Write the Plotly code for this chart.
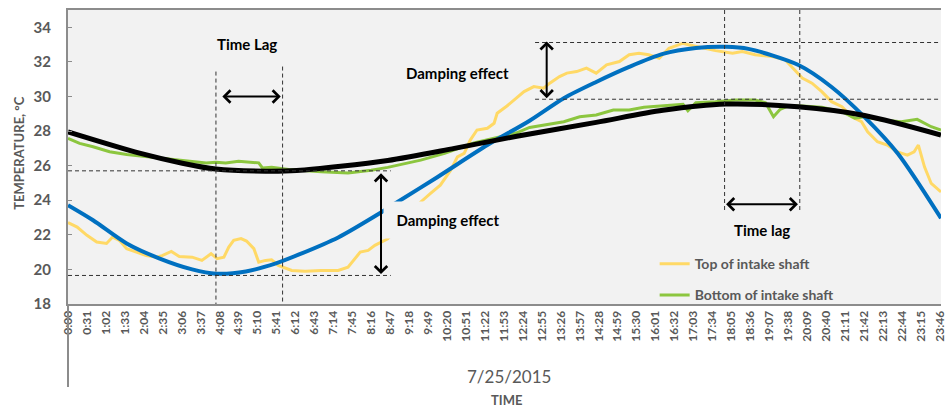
import plotly.graph_objects as go

# x axis categories, one label every 31 minutes
TICK_LABELS = [
    "0:00", "0:31", "1:02", "1:33", "2:04", "2:35", "3:06", "3:37", "4:08", "4:39",
    "5:10", "5:41", "6:12", "6:43", "7:14", "7:45", "8:16", "8:47", "9:18", "9:49",
    "10:20", "10:51", "11:22", "11:53", "12:24", "12:55", "13:26", "13:57", "14:28",
    "14:59", "15:30", "16:01", "16:32", "17:03", "17:34", "18:05", "18:36", "19:07",
    "19:38", "20:09", "20:40", "21:11", "21:42", "22:13", "22:44", "23:15", "23:46",
]

# Top of intake shaft (measured), minutes since midnight / degC
TOP_MIN = [
    0, 15, 31, 39, 47, 63, 73, 84, 96, 112, 128, 145, 154, 169, 182, 203, 219, 234,
    244, 255, 263, 271, 283, 292, 304, 312, 323, 333, 344, 366, 388, 414, 442, 458,
    478, 491, 502, 523, 577, 593, 609, 626, 637, 648, 658, 669, 686, 697, 702, 718,
    734, 746, 762, 778, 788, 804, 816, 832, 848, 864, 881, 902, 918, 934, 950, 967,
    983, 1006, 1015, 1038, 1059, 1087, 1103, 1124, 1152, 1173, 1189, 1201, 1217,
    1233, 1249, 1266, 1282, 1298, 1308, 1324, 1340, 1357, 1373, 1384, 1391, 1401,
    1412, 1428,
]
TOP_TEMP = [
    22.71, 22.45, 21.97, 21.8, 21.58, 21.5, 21.87, 21.68, 21.2, 21.0, 20.8, 20.71,
    20.8, 21.04, 20.75, 20.71, 20.52, 20.91, 20.62, 20.71, 21.29, 21.68, 21.78,
    21.64, 21.2, 20.42, 20.52, 20.56, 20.23, 19.94, 19.9, 19.94, 19.94, 20.13, 21.0,
    21.1, 21.39, 21.77, 23.9, 24.39, 24.87, 25.74, 26.51, 26.71, 27.48, 28.06,
    28.16, 28.45, 29.03, 29.45, 29.9, 30.28, 30.57, 30.48, 30.77, 31.15, 31.35,
    31.44, 31.64, 31.35, 31.83, 32.02, 32.41, 32.5, 32.41, 32.21, 32.79, 33.08,
    32.99, 32.79, 32.65, 32.5, 32.6, 32.41, 32.31, 32.12, 31.54, 31.06, 30.77,
    30.28, 29.7, 29.41, 28.83, 28.54, 27.96, 27.38, 27.19, 26.8, 26.61, 26.8, 27.19,
    25.93, 24.97, 24.48,
]

# Bottom of intake shaft (measured)
BOTTOM_MIN = [
    0, 19, 41, 68, 96, 122, 149, 177, 203, 226, 242, 258, 279, 296, 312, 318, 333,
    361, 414, 458, 496, 523, 577, 616, 642, 664, 697, 734, 755, 788, 811, 837, 864,
    892, 918, 942, 973, 1006, 1014, 1027, 1059, 1092, 1124, 1141, 1154, 1165, 1178,
    1201, 1233, 1266, 1287, 1303, 1331, 1363, 1389, 1412, 1428,
]
BOTTOM_TEMP = [
    27.58, 27.29, 27.09, 26.8, 26.65, 26.55, 26.45, 26.36, 26.26, 26.16, 26.19,
    26.16, 26.26, 26.22, 26.16, 25.87, 25.9, 25.78, 25.64, 25.58, 25.74, 25.9,
    26.32, 26.71, 27.06, 27.32, 27.58, 27.9, 28.21, 28.41, 28.54, 28.83, 28.93,
    29.22, 29.22, 29.38, 29.45, 29.55, 29.18, 29.64, 29.7, 29.8, 29.8, 29.64, 28.83,
    29.26, 29.45, 29.45, 29.38, 29.12, 28.74, 28.83, 28.64, 28.54, 28.68, 28.25,
    28.06,
]

# fitted curve for the top sensor
TOP_FIT_MIN = [
    0, 41, 96, 149, 203, 242, 291, 340, 377, 442, 510, 539, 604, 686, 755, 811, 864,
    918, 973, 1027, 1076, 1113, 1194, 1249, 1303, 1357, 1428,
]
TOP_FIT_TEMP = [
    23.71, 22.84, 21.5, 20.64, 20.0, 19.75, 19.88, 20.35, 20.85, 21.85, 23.25, 23.9,
    25.33, 27.19, 28.6, 29.9, 30.84, 31.71, 32.46, 32.8, 32.87, 32.75, 31.83, 30.55,
    28.81, 26.72, 22.96,
]

# fitted curve for the bottom sensor
BOTTOM_FIT_MIN = [0, 117, 187, 242, 323, 374, 523, 632, 734, 864, 973, 1076, 1194, 1303, 1428]
BOTTOM_FIT_TEMP = [27.95, 26.72, 26.14, 25.8, 25.68, 25.72, 26.3, 27.0, 27.7, 28.5, 29.2, 29.56, 29.4, 28.9, 27.77]

# guide lines: (x0, y0, x1, y1) in minutes / degC
GUIDES = [
    (242, 31.44, 242, 18), (351, 31.73, 351, 18),
    (1074, 35, 1074, 23.3), (1197, 35, 1197, 23.3),
    (0, 25.7, 528, 25.7), (0, 19.65, 528, 19.65),
    (764, 33.12, 1428, 33.12), (764, 29.84, 1428, 29.84),
]
ARROWS = [
    (250, 30.0, 348, 30.0),
    (512, 25.64, 512, 19.73),
    (783, 33.27, 783, 29.9),
    (1074, 23.77, 1194, 23.77),
]
LABELS = [
    ("Time Lag", 292, 33.04),
    ("Damping effect", 637, 31.36),
    ("Time lag", 1136, 22.26),
]

FONT = "Lato"
GRAY = "#595959"
AXIS = "#8c8c8c"


def to_min(label):
    h, m = label.split(":")
    return int(h) * 60 + int(m)


fig = go.Figure()

fig.add_trace(go.Scatter(
    x=TOP_MIN, y=TOP_TEMP, mode="lines", name="Top of intake shaft",
    line=dict(color="#FFD966", width=3), legendgroup="top",
))
fig.add_trace(go.Scatter(
    x=BOTTOM_MIN, y=BOTTOM_TEMP, mode="lines", name="Bottom of intake shaft",
    line=dict(color="#8CC63F", width=3), legendgroup="bottom",
))
fig.add_trace(go.Scatter(
    x=TOP_FIT_MIN, y=TOP_FIT_TEMP, mode="lines", showlegend=False,
    line=dict(color="#0070C0", width=4, shape="spline", smoothing=0.8),
))
fig.add_trace(go.Scatter(
    x=BOTTOM_FIT_MIN, y=BOTTOM_FIT_TEMP, mode="lines", showlegend=False,
    line=dict(color="black", width=5, shape="spline", smoothing=0.8),
))

for x0, y0, x1, y1 in GUIDES:
    fig.add_shape(
        type="line", x0=x0, y0=y0, x1=x1, y1=y1, xref="x", yref="y",
        line=dict(color="#333333", width=1, dash="4px,3px"),
    )

for x0, y0, x1, y1 in ARROWS:
    fig.add_annotation(
        x=x1, y=y1, ax=x0, ay=y0, xref="x", yref="y", axref="x", ayref="y",
        text="", showarrow=True, arrowside="end+start",
        arrowhead=4, startarrowhead=4, arrowsize=1.2, startarrowsize=1.2,
        arrowwidth=2, arrowcolor="black", standoff=0, startstandoff=0,
    )

for text, x, y in LABELS:
    fig.add_annotation(
        x=x, y=y, xref="x", yref="y", text=text, showarrow=False,
        font=dict(family=FONT, size=15, color="black", weight="bold"),
    )

# this label sits on a box that hides the lines behind it
fig.add_annotation(
    x=621, y=22.84, xref="x", yref="y", text="Damping effect", showarrow=False,
    bgcolor="#f2f2f2", width=126, height=34,
    font=dict(family=FONT, size=15, color="black", weight="bold"),
)

# axis texts
fig.add_annotation(
    x=-0.0563, y=0.514, xref="paper", yref="paper", text="TEMPERATURE, °C",
    textangle=-90, showarrow=False, xanchor="center", yanchor="middle",
    font=dict(family=FONT, size=13, color=GRAY, weight="bold"),
)
fig.add_annotation(
    x=0.505, y=-0.248, xref="paper", yref="paper", text="7/25/2015",
    showarrow=False, xanchor="center", yanchor="middle",
    font=dict(family=FONT, size=17, color=GRAY),
)
fig.add_annotation(
    x=0.502, y=-0.327, xref="paper", yref="paper", text="TIME",
    showarrow=False, xanchor="center", yanchor="middle",
    font=dict(family=FONT, size=13, color=GRAY, weight="bold"),
)
# category divider under the axis
fig.add_shape(
    type="line", x0=0, x1=0, y0=0, y1=-0.282, xref="paper", yref="paper",
    line=dict(color=AXIS, width=2),
)

fig.update_xaxes(
    range=[0, 1428], tickvals=[to_min(t) for t in TICK_LABELS], ticktext=TICK_LABELS,
    tickangle=-90, showline=True, linecolor=AXIS, linewidth=2, mirror=True,
    showgrid=False, zeroline=False, ticks="", ticklabeloverflow="allow",
    tickfont=dict(family=FONT, size=12, color=GRAY, weight="bold"),
)
fig.update_yaxes(
    range=[18, 35], tick0=18, dtick=2, showline=True, linecolor=AXIS, linewidth=2,
    showgrid=False, zeroline=False, ticks="inside", ticklen=4, tickcolor=AXIS,
    ticklabelstandoff=12,
    tickfont=dict(family=FONT, size=15, color=GRAY, weight="bold"),
)

fig.update_layout(
    width=947, height=407,
    margin=dict(l=68, r=0, t=10, b=103),
    paper_bgcolor="white", plot_bgcolor="#f2f2f2",
    legend=dict(
        x=0.672, y=0.19, xanchor="left", yanchor="top",
        bgcolor="rgba(0,0,0,0)", tracegroupgap=10,
        font=dict(family=FONT, size=14, color=GRAY, weight="bold"),
    ),
)

# drop the default body margin so the figure fills the window exactly
fig.write_html(
    "out.html",
    config={"displayModeBar": False},
    post_script="document.body.style.margin='0';document.body.style.overflow='hidden';",
)
